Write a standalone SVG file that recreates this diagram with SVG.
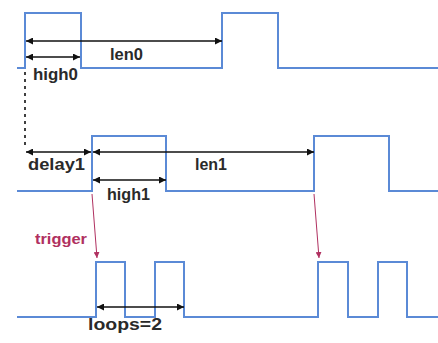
<svg xmlns="http://www.w3.org/2000/svg" width="438" height="343" viewBox="0 0 438 343">
<defs>
<marker id="ah" viewBox="0 0 10 10" refX="10" refY="5" markerWidth="7" markerHeight="7" orient="auto-start-reverse" markerUnits="userSpaceOnUse"><path d="M0,0 L10,5 L0,10 z" fill="#111"/></marker>
<marker id="ahr" viewBox="0 0 10 10" refX="10" refY="5" markerWidth="6" markerHeight="6" orient="auto" markerUnits="userSpaceOnUse"><path d="M0,0 L10,5 L0,10 z" fill="#b03060"/></marker>
</defs>
<style>
.w{fill:none;stroke:#5b8ad6;stroke-width:2}
.a{stroke:#111;stroke-width:1.6;marker-start:url(#ah);marker-end:url(#ah)}
.t{font-family:"Liberation Sans",Arial,sans-serif;font-weight:bold;font-size:17px;fill:#2a2a2a}
</style>
<g id="wave0"><path class="w" d="M17,68 H25 V13 H81 V68 H222 V13 H278 V68 H438"/></g>
<g id="wave1"><path class="w" d="M17,191 H92 V136 H166 V191 H314 V136 H389 V191 H438"/></g>
<g id="wave2"><path class="w" d="M17,317 H96 V262 H125 V317 H155 V262 H184 V317 H318 V262 H348 V317 H378 V262 H407 V317 H438"/></g>
<g id="connectors">
<line class="a" x1="26" y1="41" x2="222" y2="41"/>
<line class="a" x1="26" y1="57" x2="80" y2="57"/>
<line x1="25" y1="72" x2="25" y2="148" stroke="#111" stroke-width="1.6" stroke-dasharray="3,4"/>
<line class="a" x1="26" y1="152" x2="91" y2="152"/>
<line class="a" x1="93" y1="152" x2="314" y2="152"/>
<line class="a" x1="93" y1="180" x2="166" y2="180"/>
<line class="a" x1="97" y1="307" x2="184" y2="307" stroke="#444"/>
<line x1="92" y1="194" x2="97" y2="258" stroke="#b03060" stroke-width="1" marker-end="url(#ahr)"/>
<line x1="314" y1="194" x2="319" y2="258" stroke="#b03060" stroke-width="1" marker-end="url(#ahr)"/>
</g>
<g id="labels">
<text class="t" x="110" y="60" textLength="33" lengthAdjust="spacingAndGlyphs">len0</text>
<text class="t" x="33" y="80" textLength="45" lengthAdjust="spacingAndGlyphs">high0</text>
<text class="t" x="28" y="170" textLength="57" lengthAdjust="spacingAndGlyphs">delay1</text>
<text class="t" x="195" y="170" textLength="32" lengthAdjust="spacingAndGlyphs">len1</text>
<text class="t" x="107" y="200" textLength="43" lengthAdjust="spacingAndGlyphs">high1</text>
<text class="t" x="35" y="244" textLength="52" lengthAdjust="spacingAndGlyphs" style="fill:#b03060;font-size:15px">trigger</text>
<text class="t" x="88" y="330" textLength="74" lengthAdjust="spacingAndGlyphs">loops=2</text>
</g>
</svg>
